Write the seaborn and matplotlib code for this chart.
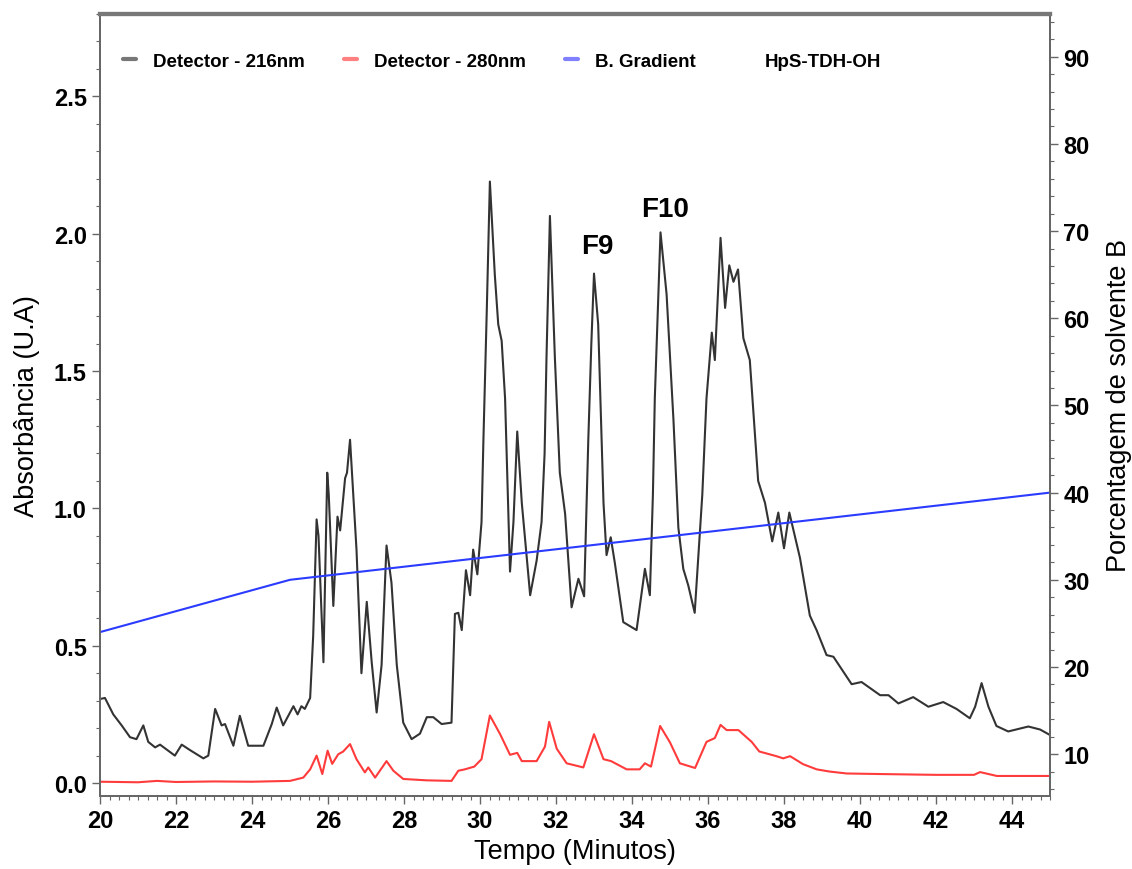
import seaborn as sns
import matplotlib.pyplot as plt
import pandas as pd
from matplotlib.lines import Line2D
from matplotlib.ticker import MultipleLocator

t_216 = [20.0, 20.13, 20.35, 20.57, 20.79, 20.96, 21.14, 21.27, 21.45, 21.58, 21.97, 22.15, 22.37, 22.72, 22.85,
         23.03, 23.2, 23.29, 23.51, 23.68, 23.9, 24.3, 24.52, 24.65, 24.82, 25.09, 25.2, 25.3, 25.39, 25.53,
         25.61, 25.7, 25.75, 25.88, 25.98, 26.02, 26.14, 26.25, 26.32, 26.45, 26.5, 26.58, 26.75, 26.88, 27.02,
         27.15, 27.28, 27.41, 27.54, 27.67, 27.81, 27.98, 28.2, 28.42, 28.6, 28.77, 28.99, 29.25, 29.34, 29.43,
         29.52, 29.63, 29.74, 29.82, 29.93, 30.04, 30.09, 30.18, 30.26, 30.39, 30.48, 30.57, 30.66, 30.79, 30.88,
         30.98, 31.1, 31.32, 31.49, 31.62, 31.7, 31.75, 31.84, 31.97, 32.1, 32.24, 32.41, 32.59, 32.74, 32.85,
         32.93, 33.0, 33.11, 33.25, 33.33, 33.44, 33.55, 33.77, 34.12, 34.34, 34.47, 34.55, 34.6, 34.75, 34.91,
         35.09, 35.22, 35.35, 35.48, 35.65, 35.85, 35.96, 36.1, 36.18, 36.27, 36.33, 36.45, 36.56, 36.67, 36.79,
         36.93, 37.1, 37.32, 37.5, 37.69, 37.85, 38.0, 38.14, 38.42, 38.68, 38.86, 39.12, 39.3, 39.78, 40.04,
         40.53, 40.75, 41.01, 41.4, 41.8, 42.19, 42.54, 42.89, 43.03, 43.2, 43.38, 43.59, 43.9, 44.43, 44.74,
         45.0]
abs_216 = [0.306, 0.31, 0.25, 0.21, 0.167, 0.16, 0.21, 0.15, 0.13, 0.14, 0.10, 0.14, 0.12, 0.09, 0.10,
           0.27, 0.21, 0.215, 0.136, 0.245, 0.136, 0.136, 0.215, 0.275, 0.21, 0.28, 0.25, 0.28, 0.27, 0.31,
           0.536, 0.96, 0.90, 0.44, 1.13, 1.05, 0.645, 0.97, 0.92, 1.11, 1.13, 1.25, 0.85, 0.40, 0.66,
           0.44, 0.257, 0.43, 0.865, 0.73, 0.43, 0.22, 0.16, 0.18, 0.24, 0.24, 0.215, 0.22, 0.616, 0.62,
           0.557, 0.775, 0.684, 0.85, 0.76, 0.95, 1.25, 1.73, 2.19, 1.85, 1.67, 1.61, 1.40, 0.77, 0.95,
           1.28, 1.02, 0.684, 0.81, 0.95, 1.20, 1.55, 2.065, 1.55, 1.13, 0.98, 0.64, 0.744, 0.68, 1.25,
           1.60, 1.855, 1.67, 1.02, 0.83, 0.895, 0.80, 0.586, 0.557, 0.78, 0.684, 1.05, 1.40, 2.005, 1.78,
           1.325, 0.93, 0.78, 0.72, 0.62, 1.05, 1.40, 1.64, 1.54, 1.81, 1.985, 1.73, 1.885, 1.825, 1.87,
           1.62, 1.54, 1.10, 1.02, 0.88, 0.985, 0.855, 0.985, 0.82, 0.61, 0.556, 0.466, 0.46, 0.36, 0.368,
           0.32, 0.32, 0.29, 0.313, 0.278, 0.295, 0.27, 0.236, 0.278, 0.364, 0.278, 0.208, 0.188, 0.206, 0.195,
           0.175]

t_280 = [20.0, 21.0, 21.5, 22.0, 23.0, 24.0, 25.0, 25.35, 25.53, 25.7, 25.85, 25.99, 26.11, 26.27, 26.4,
         26.58, 26.75, 26.97, 27.06, 27.24, 27.54, 27.72, 27.98, 28.6, 29.25, 29.43, 29.6, 29.85, 30.04, 30.26,
         30.53, 30.79, 30.98, 31.1, 31.49, 31.71, 31.82, 32.02, 32.28, 32.72, 33.0, 33.25, 33.45, 33.86, 34.2,
         34.34, 34.5, 34.74, 35.0, 35.26, 35.66, 35.96, 36.18, 36.33, 36.49, 36.8, 37.15, 37.35, 37.8, 37.98,
         38.16, 38.5, 38.86, 39.2, 39.65, 40.5, 42.0, 43.0, 43.16, 43.6, 45.0]
abs_280 = [0.005, 0.003, 0.008, 0.004, 0.006, 0.005, 0.008, 0.02, 0.05, 0.10, 0.033, 0.118, 0.07, 0.105, 0.115,
           0.142, 0.087, 0.039, 0.057, 0.02, 0.08, 0.045, 0.015, 0.01, 0.008, 0.045, 0.05, 0.06, 0.087, 0.246,
           0.178, 0.103, 0.11, 0.08, 0.08, 0.133, 0.223, 0.125, 0.072, 0.057, 0.178, 0.087, 0.08, 0.05, 0.05,
           0.072, 0.06, 0.208, 0.148, 0.072, 0.055, 0.15, 0.164, 0.212, 0.193, 0.193, 0.15, 0.115, 0.098, 0.09,
           0.098, 0.069, 0.05, 0.042, 0.035, 0.033, 0.03, 0.03, 0.04, 0.026, 0.026]

# gradiente do solvente B (%)
t_grad = [20, 25, 45]
pct_grad = [24, 30, 40]

fracoes = ["F9", "F10"]
fracoes_t = [33.08, 34.87]
fracoes_y = [1.955, 2.09]

sns.set_style("ticks")
plt.rcParams['font.family'] = ['Liberation Sans', 'DejaVu Sans']
plt.rcParams['text.color'] = 'black'
plt.rcParams['axes.labelcolor'] = 'black'
plt.rcParams['xtick.color'] = 'black'
plt.rcParams['ytick.color'] = 'black'

df216 = pd.DataFrame({"tempo": t_216, "abs": abs_216})
df280 = pd.DataFrame({"tempo": t_280, "abs": abs_280})
dfgrad = pd.DataFrame({"tempo": t_grad, "pct": pct_grad})

fig = plt.figure(figsize=(11.32, 8.70), dpi=100)
ax = fig.add_axes([100 / 1132, 73 / 870, 950 / 1132, 782 / 870])
ax2 = ax.twinx()

sns.lineplot(data=df216, x="tempo", y="abs", ax=ax, color="#333333", lw=1.5)
sns.lineplot(data=df280, x="tempo", y="abs", ax=ax, color="#ff3b3b", lw=1.5)
sns.lineplot(data=dfgrad, x="tempo", y="pct", ax=ax2, color="#2b3bff", lw=1.5)

for nome, xt, yt in zip(fracoes, fracoes_t, fracoes_y):
    ax.text(xt, yt, nome, ha="center", va="center", fontsize=20, fontweight="bold")

ax.set_xlim(20, 45)
ax.set_ylim(-0.047, 2.80)
ax2.set_ylim(5.2, 94.9)

ax.xaxis.set_major_locator(MultipleLocator(2))
ax.xaxis.set_minor_locator(MultipleLocator(0.25))
ax.yaxis.set_major_locator(MultipleLocator(0.5))
ax.yaxis.set_minor_locator(MultipleLocator(0.1))
ax2.yaxis.set_major_locator(MultipleLocator(10))
ax2.yaxis.set_minor_locator(MultipleLocator(2))

for a in (ax, ax2):
    a.tick_params(which="major", length=6, width=1, color="#666666", labelsize=17)
    a.tick_params(which="minor", length=3, width=0.8, color="#666666")
    for sp in a.spines.values():
        sp.set_color("#666666")
        sp.set_linewidth(1.3)
    a.spines["top"].set_linewidth(3)
    a.spines["top"].set_color("#777777")
ax.set_yticks([0, 0.5, 1.0, 1.5, 2.0, 2.5])
ax.set_yticklabels([f"{v:.1f}" for v in [0, 0.5, 1.0, 1.5, 2.0, 2.5]])
for lab in ax.get_xticklabels() + ax.get_yticklabels() + ax2.get_yticklabels():
    lab.set_fontweight("bold")

ax.set_xlabel("Tempo (Minutos)", fontsize=19.5, labelpad=4)
ax.set_ylabel("Absorbância (U.A)", fontsize=19.5, labelpad=10)
ax2.set_ylabel("Porcentagem de solvente B", fontsize=19.5, labelpad=12)

handles = [Line2D([], [], color="#777777", lw=3),
           Line2D([], [], color="#ff8080", lw=3),
           Line2D([], [], color="#8080ff", lw=3),
           Line2D([], [], color="none", lw=0)]
labels = ["Detector - 216nm", "Detector - 280nm", "B. Gradient", "HpS-TDH-OH"]
ax.legend(handles, labels, loc="upper left", bbox_to_anchor=(0.006, 0.972), ncol=4, frameon=False,
          handlelength=0.7, handletextpad=0.9, columnspacing=2.1,
          prop={"weight": "bold", "size": 13.5})

fig.savefig("out.png", dpi=100)
